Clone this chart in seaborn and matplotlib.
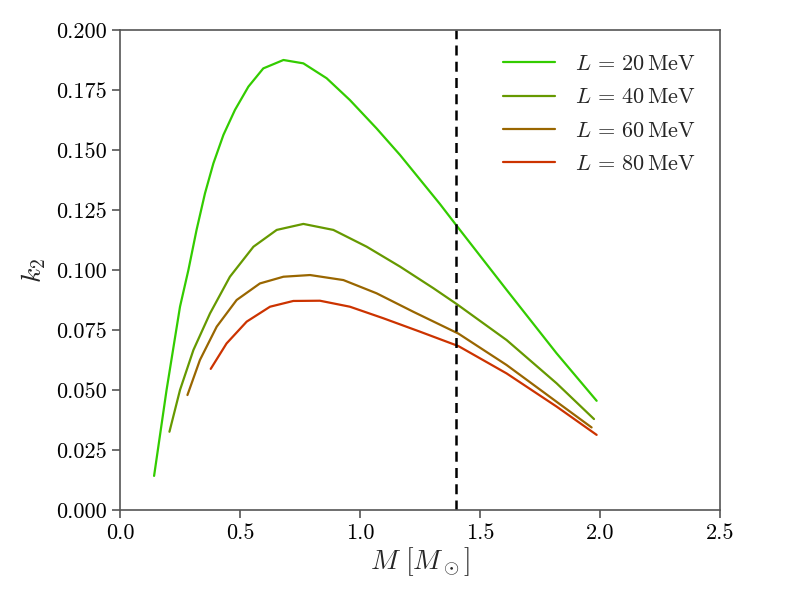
import numpy as np
import pandas as pd
import matplotlib
matplotlib.use("Agg")
import matplotlib.pyplot as plt
import seaborn as sns

# Data
m_L20 = [0.142, 0.194, 0.25, 0.285, 0.319, 0.354, 0.389, 0.431, 0.479, 0.535, 0.597, 0.681, 0.764,
         0.861, 0.958, 1.069, 1.167, 1.333, 1.4, 1.611, 1.819, 1.986]
k_L20 = [0.0142, 0.050, 0.0847, 0.100, 0.1167, 0.1319, 0.1444, 0.1563, 0.1667, 0.1764, 0.184, 0.1875, 0.1861,
         0.1799, 0.1708, 0.159, 0.1479, 0.1275, 0.1188, 0.0917, 0.0653, 0.0455]

m_L40 = [0.206, 0.25, 0.306, 0.375, 0.458, 0.556, 0.653, 0.764, 0.889, 1.028, 1.167, 1.306, 1.403,
         1.611, 1.819, 1.975]
k_L40 = [0.0326, 0.050, 0.0667, 0.0819, 0.0972, 0.1097, 0.1167, 0.1192, 0.1167, 0.1097, 0.1014, 0.0924, 0.0858,
         0.0708, 0.0528, 0.0379]

m_L60 = [0.281, 0.333, 0.403, 0.486, 0.583, 0.681, 0.792, 0.931, 1.069, 1.222, 1.41, 1.611, 1.819, 1.965]
k_L60 = [0.0479, 0.0625, 0.0764, 0.0875, 0.0944, 0.0972, 0.0979, 0.0958, 0.0903, 0.0826, 0.0735, 0.0604, 0.0451, 0.0344]

m_L80 = [0.378, 0.444, 0.528, 0.625, 0.722, 0.833, 0.958, 1.097, 1.25, 1.41, 1.611, 1.819, 1.986]
k_L80 = [0.0588, 0.0694, 0.0785, 0.0847, 0.0871, 0.0872, 0.0847, 0.0799, 0.0743, 0.0683, 0.0569, 0.0431, 0.0313]

labels = [r"$L\,=\,20\,\mathrm{MeV}$", r"$L\,=\,40\,\mathrm{MeV}$",
          r"$L\,=\,60\,\mathrm{MeV}$", r"$L\,=\,80\,\mathrm{MeV}$"]
colors = ["#33cc00", "#669900", "#996600", "#cc3300"]
m_canonical = 1.4

frames = []
for lab, m, k in zip(labels, [m_L20, m_L40, m_L60, m_L80], [k_L20, k_L40, k_L60, k_L80]):
    frames.append(pd.DataFrame({"M": m, "k2": k, "L": lab}))
df = pd.concat(frames, ignore_index=True)

sns.set_style("ticks")
plt.rcParams["font.family"] = "serif"
plt.rcParams["font.serif"] = ["cmr10", "DejaVu Serif"]
plt.rcParams["mathtext.fontset"] = "cm"
plt.rcParams["axes.formatter.use_mathtext"] = True

fig, ax = plt.subplots(figsize=(8, 6), dpi=100)
fig.subplots_adjust(left=0.15, right=0.9, bottom=0.15, top=0.95)

sns.lineplot(data=df, x="M", y="k2", hue="L", palette=colors, hue_order=labels,
             sort=False, estimator=None, lw=1.6, ax=ax)
ax.axvline(m_canonical, color="black", ls="--", lw=1.8, dashes=(4, 2.5))

ax.set_xlim(0, 2.5)
ax.set_ylim(0, 0.2)
ax.set_xticks([0.0, 0.5, 1.0, 1.5, 2.0, 2.5])
ax.set_yticks([0.0, 0.025, 0.05, 0.075, 0.1, 0.125, 0.15, 0.175, 0.2])
ax.set_xticklabels(["0.0", "0.5", "1.0", "1.5", "2.0", "2.5"])
ax.set_yticklabels(["0.000", "0.025", "0.050", "0.075", "0.100", "0.125", "0.150", "0.175", "0.200"])
ax.tick_params(direction="out", length=6, width=1.2, colors="#555555", labelcolor="black", labelsize=16)
for s in ax.spines.values():
    s.set_color("#555555")
    s.set_linewidth(1.2)
    s.set_visible(True)

ax.set_xlabel(r"$M\ [M_\odot]$", fontsize=20, labelpad=2)
ax.set_ylabel(r"$k_2$", fontsize=20, labelpad=6)

leg = ax.legend(loc="upper right", frameon=False, fontsize=16, handlelength=2.35,
                handletextpad=0.9, labelspacing=0.62, borderaxespad=0.7)

fig.savefig("out.png", dpi=100)
